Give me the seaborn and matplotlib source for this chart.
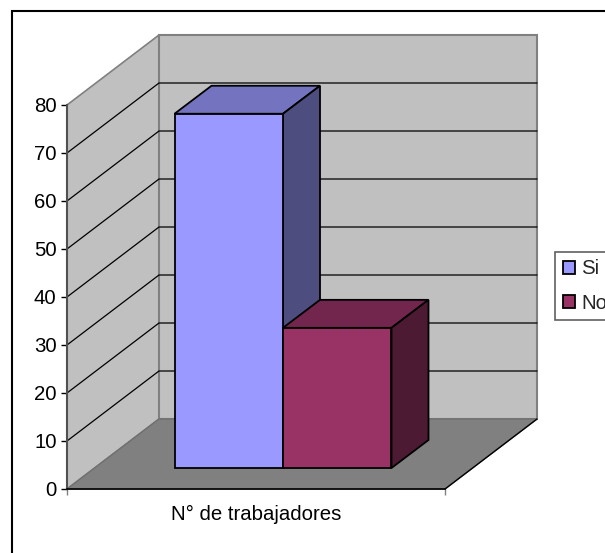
import matplotlib
matplotlib.use('Agg')
import matplotlib.pyplot as plt
from matplotlib.patches import Polygon, Rectangle
import pandas as pd
import seaborn as sns

categories = ['N° de trabajadores']
series_names = ['Si', 'No']
series_values = [73.8, 29.2]
y_ticks = [0, 10, 20, 30, 40, 50, 60, 70, 80]

W, H = 605, 553
FRONT_L, FRONT_R, FRONT_B, FRONT_T = 67, 445, 489, 105   # front plane in pixels

# depth of the fake 3d box, in data units
PX_X = (FRONT_R - FRONT_L)          # pixels for one x unit
PX_Y = (FRONT_B - FRONT_T) / 80     # pixels for one y unit
BOX_DX, BOX_DY = 92 / PX_X, 70 / PX_Y
BAR_DX, BAR_DY = 37 / PX_X, 28 / PX_Y
LIFT_X, LIFT_Y = 27 / PX_X, 21 / PX_Y

front_colors = ['#9999FF', '#993366']
top_colors = ['#7373BF', '#73264D']
side_colors = ['#4D4D80', '#4D1A33']

sns.set_style('white')
plt.rcParams['font.family'] = ['Liberation Sans', 'DejaVu Sans']
plt.rcParams['font.size'] = 14.7

df = pd.DataFrame({'categoria': categories * 2, 'serie': series_names, 'valor': series_values})

fig = plt.figure(figsize=(W / 100, H / 100), dpi=100, facecolor='white')
ax = fig.add_axes([FRONT_L / W, 1 - FRONT_B / H, (FRONT_R - FRONT_L) / W, (FRONT_B - FRONT_T) / H])
ax.patch.set_alpha(0)

# outer frame, right and bottom sides fall off the canvas
fig.add_artist(Rectangle((12 / W, -0.1), 1.1, 1.1 - 11 / H, transform=fig.transFigure,
                         fill=False, edgecolor='black', linewidth=1.5))

sns.barplot(data=df, x='categoria', y='valor', hue='serie', hue_order=series_names,
            palette=front_colors, saturation=1, width=0.574, dodge=True, gap=0,
            edgecolor='black', linewidth=1.3, ax=ax, zorder=5)

ax.set_xlim(-0.5, 0.5)
ax.set_ylim(0, 80)

x0, x1 = -0.5, 0.5
# walls and floor
ax.add_patch(Polygon([(x0, 0), (x0, 80), (x0 + BOX_DX, 80 + BOX_DY), (x0 + BOX_DX, BOX_DY)],
                     facecolor='#C0C0C0', edgecolor='#808080', linewidth=1.2, clip_on=False, zorder=1))
ax.add_patch(Polygon([(x0 + BOX_DX, BOX_DY), (x0 + BOX_DX, 80 + BOX_DY),
                      (x1 + BOX_DX, 80 + BOX_DY), (x1 + BOX_DX, BOX_DY)],
                     facecolor='#C0C0C0', edgecolor='#808080', linewidth=1.5, clip_on=False, zorder=1))
ax.add_patch(Polygon([(x0, 0), (x1, 0), (x1 + BOX_DX, BOX_DY), (x0 + BOX_DX, BOX_DY)],
                     facecolor='#808080', edgecolor='#707070', linewidth=1, clip_on=False, zorder=2))
ax.plot([x1, x1 + BOX_DX], [0, BOX_DY], color='black', lw=1, clip_on=False, zorder=3)

for t in y_ticks[1:-1]:
    ax.plot([x0, x0 + BOX_DX, x1 + BOX_DX], [t, t + BOX_DY, t + BOX_DY],
            color='black', lw=0.9, clip_on=False, zorder=3)

# move the bars into the box and add their top and side faces
for bar, top_c, side_c in zip([c[0] for c in ax.containers], top_colors, side_colors):
    bar.set_x(bar.get_x() + LIFT_X)
    bar.set_y(LIFT_Y)
    l, r = bar.get_x(), bar.get_x() + bar.get_width()
    b, t = bar.get_y(), bar.get_y() + bar.get_height()
    ax.add_patch(Polygon([(l, t), (r, t), (r + BAR_DX, t + BAR_DY), (l + BAR_DX, t + BAR_DY)],
                         facecolor=top_c, edgecolor='black', linewidth=1.3, clip_on=False, zorder=4))
    ax.add_patch(Polygon([(r, b), (r + BAR_DX, b + BAR_DY), (r + BAR_DX, t + BAR_DY), (r, t)],
                         facecolor=side_c, edgecolor='black', linewidth=1.3, clip_on=False, zorder=4))

ax.set_xlabel('')
ax.set_ylabel('')
ax.set_yticks(y_ticks)
ax.set_xticks([0], categories)
ax.set_xticks([x0, x1], minor=True)
ax.tick_params(axis='y', left=True, length=4.5, width=1, color='black', pad=3, labelsize=14.7, labelcolor='black')
ax.tick_params(axis='x', which='major', bottom=False, pad=8, labelsize=14.7, labelcolor='black')
ax.tick_params(axis='x', which='minor', bottom=True, length=4.5, width=1, color='#808080')

sns.despine(ax=ax, top=True, right=True)
ax.spines['left'].set(color='#505050', linewidth=1.5, zorder=6)
ax.spines['bottom'].set(color='black', linewidth=1.2, zorder=6)

leg = ax.legend(loc='upper left', bbox_to_anchor=(555 / W, 1 - 251.5 / H), bbox_transform=fig.transFigure,
                title=None, fontsize=14.7, frameon=True, fancybox=False, framealpha=1, borderaxespad=0,
                handlelength=0.6, handleheight=0.6, handletextpad=0.3, labelspacing=0.75,
                borderpad=0.38)
leg.get_frame().set(edgecolor='#606060', linewidth=1.2)

fig.savefig('out.png', dpi=100)
